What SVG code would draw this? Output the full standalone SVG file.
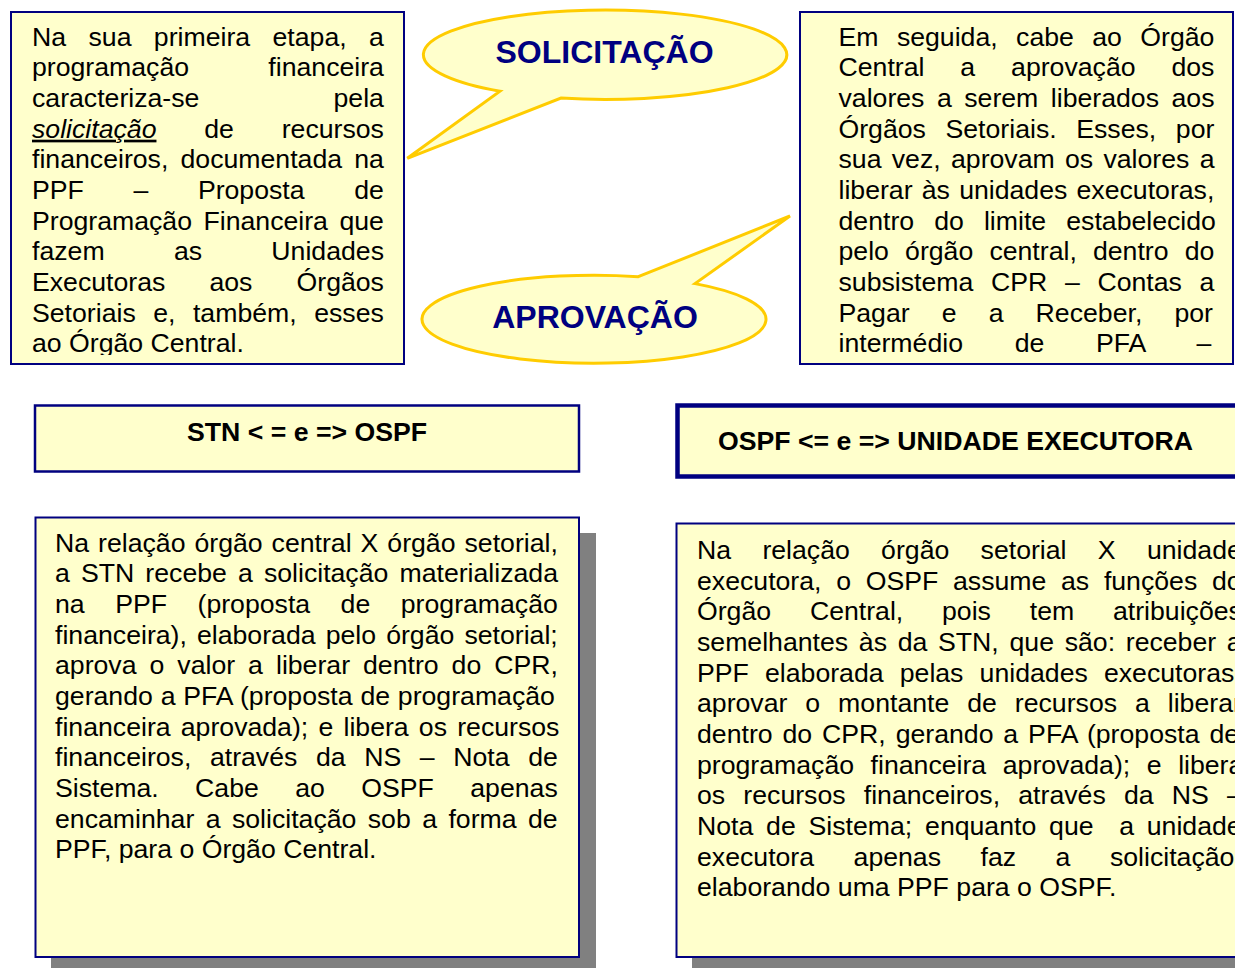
<svg xmlns="http://www.w3.org/2000/svg" width="1235" height="968" viewBox="0 0 1235 968">
<style>
.box{fill:#FFFFCC;stroke:#000080;stroke-width:2}
.shadow{fill:#808080}
.callout{fill:#FFFFCC;stroke:#FFCC00;stroke-width:3;stroke-linejoin:miter}
.body{font-family:"Liberation Sans",Arial,sans-serif;font-size:26.67px;fill:#000}
.head{font-family:"Liberation Sans",Arial,sans-serif;font-size:26.67px;font-weight:bold;fill:#000}
.ctext{font-family:"Liberation Sans",Arial,sans-serif;font-size:32px;font-weight:bold;fill:#000080;text-anchor:middle}
</style>
<defs>
<clipPath id="clipTL"><rect x="10" y="11" width="395" height="344"/></clipPath>
<clipPath id="clipTR"><rect x="799" y="11" width="436" height="353"/></clipPath>
</defs>
<rect width="1235" height="968" fill="#FFFFFF"/>

<g id="node-primeira-etapa">
<rect class="box" x="11" y="12" width="393" height="352"/>
<g clip-path="url(#clipTL)" class="body">
<text x="32" y="45.7" word-spacing="15.0">Na sua primeira etapa, a</text>
<text x="32" y="76.4" word-spacing="71.9">programação financeira</text>
<text x="32" y="107.0" word-spacing="126.7">caracteriza-se pela</text>
<text x="32" y="137.7" word-spacing="40.4"><tspan font-style="italic" text-decoration="underline">solicitação</tspan> de recursos</text>
<text x="32" y="168.4" word-spacing="4.8">financeiros, documentada na</text>
<text x="32" y="199.0" word-spacing="42.2">PPF – Proposta de</text>
<text x="32" y="229.7" word-spacing="4.05">Programação Financeira que</text>
<text x="32" y="260.4" word-spacing="61.9">fazem as Unidades</text>
<text x="32" y="291.1" word-spacing="36.7">Executoras aos Órgãos</text>
<text x="32" y="321.7" word-spacing="10.1">Setoriais e, também, esses</text>
<text x="32" y="352.4">ao Órgão Central.</text>
</g>
</g>

<g id="node-em-seguida">
<rect class="box" x="800" y="12" width="433" height="352"/>
<g clip-path="url(#clipTR)" class="body">
<text x="838.5" y="45.7" word-spacing="11.0">Em seguida, cabe ao Órgão</text>
<text x="838.5" y="76.4" word-spacing="28.5">Central a aprovação dos</text>
<text x="838.5" y="107.0" word-spacing="5.1">valores a serem liberados aos</text>
<text x="838.5" y="137.7" word-spacing="12.2">Órgãos Setoriais. Esses, por</text>
<text x="838.5" y="168.4" word-spacing="2.9">sua vez, aprovam os valores a</text>
<text x="838.5" y="199.0" word-spacing="1.8">liberar às unidades executoras,</text>
<text x="838.5" y="229.7" word-spacing="12.7">dentro do limite estabelecido</text>
<text x="838.5" y="260.4" word-spacing="8.75">pelo órgão central, dentro do</text>
<text x="838.5" y="291.1" word-spacing="10.25">subsistema CPR – Contas a</text>
<text x="838.5" y="321.7" word-spacing="24.7">Pagar e a Receber, por</text>
<text x="838.5" y="352.4" word-spacing="44.3">intermédio de PFA –</text>
</g>
</g>

<g id="callout-solicitacao">
<path class="callout" d="M 561 98.1 A 181.7 44.7 0 1 0 500 91.2 L 407.3 158.3 Z"/>
<text class="ctext" x="604.5" y="63.3">SOLICITAÇÃO</text>
</g>

<g id="callout-aprovacao">
<path class="callout" d="M 638.3 276.7 L 790 216 L 695 283.6 A 172 44 0 1 1 638.3 276.7 Z"/>
<text class="ctext" x="595" y="328.3">APROVAÇÃO</text>
</g>

<g id="node-stn-ospf">
<rect class="box" x="35" y="405.5" width="544" height="66" style="stroke-width:2.5"/>
<text class="head" x="307" y="441" text-anchor="middle">STN &lt; = e =&gt; OSPF</text>
</g>

<g id="node-ospf-ue">
<rect class="box" x="677.5" y="405.5" width="580" height="71" style="stroke-width:4.5"/>
<text class="head" x="718" y="450">OSPF &lt;= e =&gt; UNIDADE EXECUTORA</text>
</g>

<g id="node-detalhe-stn">
<rect class="shadow" x="51" y="533" width="545" height="440"/>
<rect class="box" x="35.5" y="517.5" width="543.5" height="439.5"/>
<g class="body">
<text x="55" y="551.7" word-spacing="1.57">Na relação órgão central X órgão setorial,</text>
<text x="55" y="582.4" word-spacing="3.7">a STN recebe a solicitação materializada</text>
<text x="55" y="613.0" word-spacing="23.1">na PPF (proposta de programação</text>
<text x="55" y="643.7" word-spacing="2.7">financeira), elaborada pelo órgão setorial;</text>
<text x="55" y="674.4" word-spacing="5.6">aprova o valor a liberar dentro do CPR,</text>
<text x="55" y="705.0" word-spacing="0.4">gerando a PFA (proposta de programação</text>
<text x="55" y="735.7" word-spacing="2.8">financeira aprovada); e libera os recursos</text>
<text x="55" y="766.4" word-spacing="11.2">financeiros, através da NS – Nota de</text>
<text x="55" y="797.1" word-spacing="29.0">Sistema. Cabe ao OSPF apenas</text>
<text x="55" y="827.7" word-spacing="4.0">encaminhar a solicitação sob a forma de</text>
<text x="55" y="858.4">PPF, para o Órgão Central.</text>
</g>
</g>

<g id="node-detalhe-ospf">
<rect class="shadow" x="692" y="539" width="600" height="440"/>
<rect class="box" x="676.5" y="523.5" width="600" height="433.5"/>
<g class="body">
<text x="697" y="559.0" word-spacing="23.9">Na relação órgão setorial X unidade</text>
<text x="697" y="589.7" word-spacing="7.3">executora, o OSPF assume as funções do</text>
<text x="697" y="620.3" word-spacing="31.4">Órgão Central, pois tem atribuições</text>
<text x="697" y="651.0" word-spacing="3.3">semelhantes às da STN, que são: receber a</text>
<text x="697" y="681.7" word-spacing="8.75">PPF elaborada pelas unidades executoras,</text>
<text x="697" y="712.3" word-spacing="10.55">aprovar o montante de recursos a liberar</text>
<text x="697" y="743.0" word-spacing="2.5">dentro do CPR, gerando a PFA (proposta de</text>
<text x="697" y="773.7" word-spacing="9.15">programação financeira aprovada); e libera</text>
<text x="697" y="804.4" word-spacing="10.8">os recursos financeiros, através da NS –</text>
<text x="697" y="835.0" word-spacing="5.4" xml:space="preserve">Nota de Sistema; enquanto que  a unidade</text>
<text x="697" y="865.7" word-spacing="32.1">executora apenas faz a solicitação,</text>
<text x="697" y="896.4">elaborando uma PPF para o OSPF.</text>
</g>
</g>

<g id="connectors"/>
</svg>
